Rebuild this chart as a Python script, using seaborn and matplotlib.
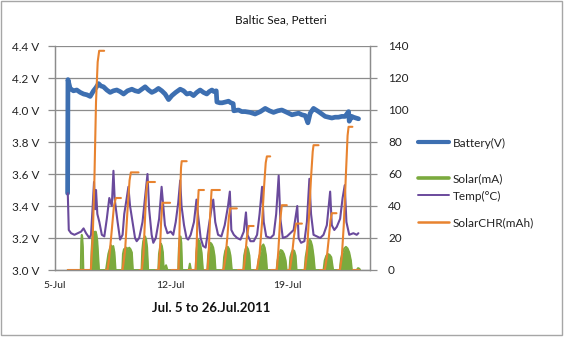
import numpy as np
import pandas as pd
import matplotlib
matplotlib.use("Agg")
import matplotlib.pyplot as plt
import seaborn as sns
from matplotlib.lines import Line2D
from matplotlib.patches import Rectangle
from matplotlib.ticker import MultipleLocator

# ---------------- data (time = days since 5-Jul-2011 00:00) ----------------
battery_t = [0.79, 0.81, 0.94, 1.14, 1.34, 1.55, 1.75, 1.95, 2.15, 2.35, 2.5, 2.65, 2.8,
             2.95, 3.15, 3.35, 3.55, 3.75, 3.95, 4.16, 4.4, 4.66, 4.86, 5.06, 5.26,
             5.46, 5.66, 5.86, 6.06, 6.26, 6.46, 6.66, 6.87, 7.07, 7.3, 7.57, 7.77,
             7.97, 8.17, 8.37, 8.57, 8.77, 8.97, 9.17, 9.32, 9.48, 9.6, 9.74, 9.78,
             9.95, 10.1, 10.3, 10.48, 10.62, 10.76, 10.8, 11.08, 11.28, 11.48, 11.78,
             12.08, 12.4, 12.69, 12.95, 13.19, 13.45, 13.69, 14.0, 14.3, 14.5, 14.7,
             14.9, 15.1, 15.26, 15.4, 15.6, 15.75, 15.9, 16.1, 16.3, 16.5, 16.7,
             16.9, 17.1, 17.3, 17.5, 17.71, 17.75, 17.9, 18.0, 18.15, 18.31]
battery_v = [3.48, 4.19, 4.135, 4.12, 4.125, 4.11, 4.10, 4.095, 4.085, 4.12, 4.14, 4.165,
             4.15, 4.145, 4.125, 4.11, 4.12, 4.125, 4.115, 4.10, 4.12, 4.13, 4.12, 4.115,
             4.13, 4.145, 4.125, 4.11, 4.12, 4.135, 4.12, 4.10, 4.065, 4.09, 4.11, 4.13,
             4.12, 4.10, 4.105, 4.09, 4.11, 4.125, 4.11, 4.10, 4.115, 4.125, 4.115, 4.12,
             4.05, 4.045, 4.045, 4.05, 4.055, 4.045, 4.04, 3.995, 4.0, 3.99, 3.99, 3.985,
             3.975, 3.99, 4.01, 3.995, 3.985, 3.995, 4.0, 3.985, 3.97, 3.975, 3.98,
             3.97, 3.965, 3.92, 3.98, 4.01, 4.0, 3.99, 3.975, 3.96, 3.955, 3.95,
             3.955, 3.955, 3.96, 3.96, 3.99, 3.93, 3.96, 3.955, 3.95, 3.945]

solar_t = [0.80, 1.58, 1.61, 1.64, 1.67, 1.71, 1.74,
           2.19, 2.23, 2.28, 2.33, 2.38, 2.43, 2.48, 2.53, 2.58, 2.63, 2.68,
           3.10, 3.17, 3.24, 3.32, 3.40, 3.47, 3.54, 3.61, 3.68,
           4.08, 4.12, 4.18, 4.26, 4.34, 4.42, 4.50, 4.58, 4.66, 4.72,
           5.24, 5.28, 5.34, 5.40, 5.46, 5.52, 5.58, 5.64,
           6.25, 6.29, 6.35, 6.41, 6.47, 6.53, 6.58, 6.66, 6.72, 6.80,
           7.45, 7.49, 7.54, 7.59, 7.64, 7.69, 8.08, 8.15, 8.22,
           8.50, 8.54, 8.60, 8.66, 8.72, 8.78, 8.86, 8.94,
           9.20, 9.25, 9.32, 9.40, 9.48, 9.56, 9.64, 9.70,
           10.16, 10.21, 10.28, 10.36, 10.44, 10.52, 10.60, 10.68,
           11.37, 11.42, 11.50, 11.58, 11.66, 11.74, 11.79,
           12.22, 12.30, 12.40, 12.50, 12.58, 12.66, 12.74, 12.80,
           13.37, 13.43, 13.52, 13.62, 13.72, 13.82, 13.92, 13.98,
           14.15, 14.20, 14.28, 14.36, 14.44, 14.52, 14.58,
           15.06, 15.12, 15.20, 15.28, 15.36, 15.44, 15.52, 15.60, 15.68,
           16.20, 16.27, 16.37, 16.47, 16.57, 16.67, 16.78,
           17.18, 17.25, 17.35, 17.45, 17.55, 17.65, 17.75, 17.85, 17.91,
           18.20, 18.28, 18.36, 18.40]
solar_v = [0, 0, 18, 22, 21, 14, 0,
           0, 12, 21, 23, 24, 22, 24, 22, 18, 9, 0,
           0, 5, 10, 13, 15.5, 14, 15, 11, 0,
           0, 10, 13, 13.5, 14, 13, 14, 13, 11, 0,
           0, 12, 18, 20, 21, 19, 14, 0,
           0, 10, 14, 16.5, 15, 11, 0, 2, 3, 0,
           0, 14, 20, 21, 17, 0, 0, 4, 0,
           0, 11, 17, 19, 18, 16, 11, 0,
           0, 9, 14, 17, 16, 14, 9, 0,
           0, 8, 12, 14, 14.5, 13, 9, 0,
           0, 9, 13, 14.5, 13, 9, 0,
           0, 7, 11, 15, 16, 14, 9, 0,
           0, 6, 10, 12.5, 12, 10, 6, 0,
           0, 8, 11, 12.5, 12, 9, 0,
           0, 8, 13, 17, 19, 18, 15, 9, 0,
           0, 6, 9, 10, 9.5, 8, 0,
           0, 7, 11, 13.5, 14.5, 13.5, 11, 6, 0,
           0, 1.2, 0.8, 0]

temp_t = [0.80, 0.86, 1.0, 1.2, 1.4, 1.6, 1.75, 1.9, 2.1, 2.2, 2.3, 2.38, 2.45, 2.5,
          2.58, 2.7, 2.85, 3.0, 3.15, 3.3, 3.45, 3.55, 3.62, 3.7, 3.8, 3.95, 4.1, 4.2,
          4.35, 4.45, 4.55, 4.7, 4.85, 4.95, 5.1, 5.3, 5.45, 5.6, 5.7, 5.85, 5.95, 6.1,
          6.3, 6.45, 6.55, 6.65, 6.8, 7.0, 7.15, 7.3, 7.45, 7.57, 7.65, 7.8, 7.95, 8.05,
          8.2, 8.4, 8.55, 8.65, 8.8, 8.95, 9.1, 9.3, 9.45, 9.56, 9.68, 9.85, 10.05,
          10.25, 10.45, 10.56, 10.65, 10.8, 11.0, 11.2, 11.4, 11.53, 11.62, 11.8, 12.0,
          12.2, 12.35, 12.5, 12.6, 12.75, 13.0, 13.2, 13.35, 13.5, 13.6, 13.75, 14.0,
          14.2, 14.4, 14.62, 14.7, 14.85, 15.05, 15.2, 15.35, 15.45, 15.6, 15.8, 16.0,
          16.2, 16.4, 16.6, 16.7, 16.85, 17.0, 17.2, 17.35, 17.48, 17.58, 17.75, 18.0,
          18.2, 18.3]
temp_v = [48, 25, 23, 22, 23, 24, 26, 23, 20, 22, 40, 55, 38, 50,
          35, 30, 22, 21, 32, 45, 40, 62, 45, 38, 30, 19, 22, 35,
          45, 52, 40, 30, 20, 18, 20, 30, 45, 60, 38, 22, 17, 20,
          32, 52, 40, 28, 23, 24, 22, 30, 42, 56, 40, 28, 20, 19,
          22, 30, 44, 34, 20, 15, 14, 28, 38, 44, 30, 22, 21,
          28, 40, 49, 25, 22, 20, 19, 24, 36, 22, 18, 18,
          22, 35, 52, 30, 21, 20, 22, 35, 59, 32, 20, 21,
          23, 25, 40, 20, 17, 18, 30, 57, 35, 22, 21, 20,
          22, 28, 49, 28, 25, 27, 32, 45, 53, 30, 22, 23,
          22, 23]

chr_day = [0]*8 + [1]*7 + [2]*7 + [3]*7 + [4]*6 + [5]*7 + [6]*6 + [7]*6 + \
          [8]*7 + [9]*6 + [10]*8 + [11]*6 + [12]*6 + [13]*8 + [14]*7 + [15]*8 + [16]*2
chr_t = [0.80, 2.19, 2.30, 2.40, 2.50, 2.60, 2.69, 2.99,
         3.08, 3.19, 3.30, 3.45, 3.58, 3.69, 4.00,
         4.05, 4.10, 4.25, 4.40, 4.52, 4.60, 5.06,
         5.12, 5.26, 5.36, 5.45, 5.52, 5.60, 6.05,
         6.12, 6.27, 6.35, 6.42, 6.50, 6.96,
         7.05, 7.47, 7.52, 7.57, 7.62, 7.66, 7.96,
         8.05, 8.50, 8.56, 8.62, 8.68, 9.00,
         9.07, 9.22, 9.30, 9.38, 9.46, 9.96,
         10.05, 10.18, 10.30, 10.42, 10.50, 10.58, 10.98,
         11.05, 11.39, 11.48, 11.58, 11.69, 11.99,
         12.05, 12.19, 12.35, 12.50, 12.62, 12.72, 12.79, 12.99,
         13.05, 13.39, 13.48, 13.58, 13.69, 13.99,
         14.05, 14.17, 14.30, 14.42, 14.55, 14.90,
         14.97, 15.08, 15.20, 15.32, 15.45, 15.55, 15.60, 15.90,
         16.00, 16.28, 16.40, 16.52, 16.62, 16.70, 16.98,
         17.05, 17.19, 17.30, 17.42, 17.55, 17.65, 17.71, 17.94,
         18.00, 18.35]
chr_v = [0, 0, 20, 55, 105, 130, 137, 137,
         0, 0, 8, 25, 40, 45, 45,
         0, 0, 12, 38, 56, 61, 61,
         0, 0, 10, 32, 48, 55, 55,
         0, 0, 12, 30, 42, 42,
         0, 0, 20, 48, 64, 68, 68,
         0, 0, 15, 38, 50, 50,
         0, 0, 14, 36, 50, 50,
         0, 0, 8, 22, 33, 38.5, 38.5,
         0, 0, 8, 20, 27.5, 27.5,
         0, 0, 10, 30, 52, 67, 71, 71,
         0, 0, 12, 30, 40.5, 40.5,
         0, 0, 9, 21, 29, 29,
         0, 0, 10, 32, 58, 74, 78, 78,
         0, 0, 8, 20, 31, 35.5, 35.5,
         0, 0, 8, 28, 60, 84, 89.5, 89.5,
         0, 0]

date_ticks = [0, 7, 14]
date_labels = ["5-Jul", "12-Jul", "19-Jul"]
volt_ticks = [3.0, 3.2, 3.4, 3.6, 3.8, 4.0, 4.2, 4.4]
right_ticks = [0, 20, 40, 60, 80, 100, 120, 140]
series_names = ["Battery(V)", "Solar(mA)", "Temp(°C)", "SolarCHR(mAh)"]
title = "Baltic Sea, Petteri"
xlabel = "Jul. 5 to 26.Jul.2011"

# ---------------- styling ----------------
sns.set_style("white")
plt.rcParams["font.family"] = ["Lato", "DejaVu Sans"]

c_batt = "#3D6FB1"
c_solar = "#7BAA3E"
c_temp = "#6A4A9C"
c_chr = "#E8832F"
c_grid = "#8C8C8C"

fig = plt.figure(figsize=(5.64, 3.38), dpi=100)
ax = fig.add_axes([54.5 / 564, 1 - 270 / 338, 315.5 / 564, 224 / 338])
ax2 = ax.twinx()

df_b = pd.DataFrame({"t": battery_t, "v": battery_v})
df_s = pd.DataFrame({"t": solar_t, "v": solar_v})
df_tp = pd.DataFrame({"t": temp_t, "v": temp_v})
df_c = pd.DataFrame({"t": chr_t, "v": chr_v, "day": chr_day})

sns.lineplot(data=df_b, x="t", y="v", ax=ax, color=c_batt, lw=3.4,
             estimator=None, sort=False, legend=False)

ax2.fill_between(df_s["t"], 0, df_s["v"], color=c_solar, lw=0)
sns.lineplot(data=df_s, x="t", y="v", ax=ax2, color=c_solar, lw=1.4,
             estimator=None, sort=False, legend=False)
sns.lineplot(data=df_tp, x="t", y="v", ax=ax2, color=c_temp, lw=1.5,
             estimator=None, sort=False, legend=False)
sns.lineplot(data=df_c, x="t", y="v", units="day", ax=ax2, color=c_chr, lw=1.5,
             estimator=None, sort=False, legend=False)

# axes limits / ticks
ax.set_xlim(0, 19)
ax.set_ylim(3.0, 4.4)
ax2.set_ylim(0, 140)
ax.set_yticks(volt_ticks)
ax.set_yticklabels([f"{v:.1f} V" for v in volt_ticks])
ax2.set_yticks(right_ticks)
ax2.set_yticklabels([str(v) for v in right_ticks])
ax.set_xticks(date_ticks)
ax.set_xticklabels(date_labels)
ax.xaxis.set_minor_locator(MultipleLocator(1))

ax.grid(axis="y", color=c_grid, lw=0.9)
ax.grid(axis="x", visible=False)
ax.set_axisbelow(True)
ax.set_xlabel("")
ax.set_ylabel("")
ax2.set_ylabel("")
ax2.set_xlabel("")

for a in (ax, ax2):
    for s in a.spines.values():
        s.set_color(c_grid)
        s.set_linewidth(0.9)
    a.spines["top"].set_visible(False)

ax.tick_params(axis="y", which="major", direction="out", length=5, width=0.9,
               color=c_grid, labelsize=8.5, pad=6, labelcolor="#222222")
ax2.tick_params(axis="y", which="major", direction="out", length=5, width=0.9,
                color=c_grid, labelsize=8.5, pad=8, labelcolor="#222222")
ax.tick_params(axis="x", which="major", direction="out", length=4, width=0.9,
               color=c_grid, labelsize=7.5, pad=4, labelcolor="#222222")
ax.tick_params(axis="x", which="minor", direction="out", length=4, width=0.9,
               color=c_grid)

fig.text(0.498, 0.941, title, ha="center", va="center", fontsize=8.5, color="#111111")
fig.text(0.374, 0.089, xlabel, ha="center", va="center", fontsize=9.5,
         fontweight="bold", color="#111111")

# legend entries
handles = [Line2D([], [], color=c_batt, lw=3.0),
           Line2D([], [], color=c_solar, lw=2.6),
           Line2D([], [], color=c_temp, lw=1.4),
           Line2D([], [], color=c_chr, lw=1.8)]
leg_y = [1 - 143 / 338, 1 - 179 / 338, 1 - 196 / 338, 1 - 223 / 338]
for h, name, y in zip(handles, series_names, leg_y):
    fig.legend([h], [name], loc="center left", bbox_to_anchor=(418 / 564, y),
               frameon=False, fontsize=8.5, handlelength=2.6, handletextpad=0.35,
               borderpad=0, borderaxespad=0, labelcolor="#222222")

fig.patches.append(Rectangle((1 / 564, 3 / 338), 561 / 564, 334 / 338,
                             transform=fig.transFigure, fill=False,
                             edgecolor="#A6A6A6", lw=1.0))

fig.savefig("out.png", dpi=100)
